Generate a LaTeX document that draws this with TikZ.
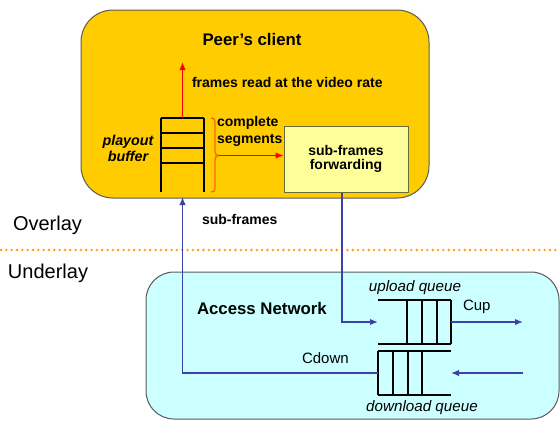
\documentclass[tikz,border=0pt]{standalone}
\usepackage{fontspec}
\setmainfont{Liberation Sans}
\usetikzlibrary{arrows.meta}

\definecolor{peerfill}{HTML}{FFCC00}
\definecolor{netfill}{HTML}{CCFFFF}
\definecolor{fwdfill}{HTML}{FFFF99}
\definecolor{boxline}{HTML}{5A5A5A}
\definecolor{fwdline}{HTML}{6B6B3A}
\definecolor{flowblue}{HTML}{4040AA}
\definecolor{dotorange}{HTML}{FF9900}
\definecolor{braceorange}{HTML}{FF6600}

\tikzset{
  region/.style={draw=boxline, line width=1pt},
  flowblue arrow/.style={draw=flowblue, line width=1.4pt, -{Latex[length=8pt,width=6.5pt]}},
  flowred arrow/.style={draw=red, line width=1.4pt, -{Latex[length=8pt,width=6.5pt]}},
  qline/.style={draw=black, line width=1.9pt},
  txt/.style={inner sep=0pt, outer sep=0pt},
  boldlbl/.style={txt, font=\fontsize{14}{17}\selectfont\bfseries},
  titlelbl/.style={txt, font=\fontsize{16.8}{20}\selectfont\bfseries},
  layerlbl/.style={txt, font=\fontsize{20}{24}\selectfont},
  ratelbl/.style={txt, font=\fontsize{15}{18}\selectfont},
  queuelbl/.style={txt, font=\fontsize{15.2}{18}\selectfont\itshape},
  holder/.style={inner sep=0pt, outer sep=0pt}
}

\begin{document}
\begin{tikzpicture}[x=1pt,y=-1pt]
\useasboundingbox (0,0) rectangle (560,421);

% peer and access network regions
\draw[region, fill=peerfill, rounded corners=32pt] (81,10) rectangle (429,198);
\draw[region, fill=netfill, rounded corners=28pt] (146,272) rectangle (559,419);

% overlay / underlay divider
\coordinate (divL) at (1,250);
\coordinate (divR) at (560,250);
\draw[dotorange, line width=2.6pt, line cap=round, dash pattern=on 0pt off 5.33pt] (divL) -- (divR);

\node[layerlbl, anchor=west] (overlay) at (13,225) {Overlay};
\node[layerlbl, anchor=west] (underlay) at (8,273) {Underlay};

% peer's client
\node[titlelbl] (peer) at (252,39) {Peer’s client};

% playout buffer
\node[holder, minimum width=43pt, minimum height=74pt] (buf) at (182.5,155) {};
\draw[qline] (161,118) -- (161,192) (204,118) -- (204,192);
\draw[qline] (161,118) -- (204,118) (161,133) -- (204,133)
             (161,148) -- (204,148) (161,163) -- (204,163);
\node[txt, align=center, font=\fontsize{14.3}{16}\selectfont\bfseries\itshape] (buflbl) at (128,148) {playout\\buffer};

\coordinate (readout) at (182.5,62);
\draw[flowred arrow] (buf.north) -- (readout);
\node[boldlbl, anchor=west] (readlbl) at (192,82) {frames read at the video rate};

% complete segments brace and forwarding box
\node[fill=fwdfill, draw=fwdline, line width=1pt, minimum width=124pt, minimum height=66pt,
      inner sep=0pt, align=center, font=\fontsize{14}{13.5}\selectfont\bfseries] (sf) at (346,159) {sub-frames\\forwarding};

\draw[braceorange, line width=1.3pt]
  (211,118) .. controls (214,118) and (215,119) .. (215,122) -- (215,151)
  .. controls (215,154) and (216,155.5) .. (219,155.5)
  .. controls (216,155.5) and (215,157) .. (215,160) -- (215,188)
  .. controls (215,191) and (214,192) .. (211,192);
\coordinate (braceTip) at (219,155.5);
\draw[flowred arrow] (braceTip) -- (sf.west |- braceTip);
\node[boldlbl, anchor=west, align=left] (seglbl) at (217,131.5) {complete\\segments};

% access network
\node[titlelbl, anchor=west] (net) at (197,308) {Access Network};

% upload queue (open on the left)
\node[holder, minimum width=73pt, minimum height=44pt] (uq) at (414.5,322) {};
\draw[qline] (378,300) -- (451,300) (378,344) -- (451,344);
\draw[qline] (407,300) -- (407,344) (422,300) -- (422,344)
             (437,300) -- (437,344) (451,300) -- (451,344);
\node[queuelbl] (uqlbl) at (415,288) {upload queue};

% download queue (open on the right)
\node[holder, minimum width=73pt, minimum height=44pt] (dq) at (414.5,373) {};
\draw[qline] (378,351) -- (451,351) (378,395) -- (451,395);
\draw[qline] (378,351) -- (378,395) (393,351) -- (393,395)
             (408,351) -- (408,395) (422,351) -- (422,395);
\node[queuelbl] (dqlbl) at (422,408) {download queue};

% rates
\node[ratelbl, anchor=west] (cup) at (463,307) {Cup};
\node[ratelbl, anchor=west] (cdown) at (302,358) {Cdown};

% sub-frame flows
\coordinate (upOut) at (523,322);
\coordinate (downIn) at (523,373);
\draw[flowblue arrow] ([xshift=-4pt]sf.south) |- (uq.west);
\draw[flowblue arrow] (uq.east) -- (upOut);
\draw[flowblue arrow] (downIn) -- (dq.east);
\draw[flowblue arrow] (dq.west) -| ([yshift=-5pt]buf.south);
\node[boldlbl, anchor=west] (subflbl) at (202,219) {sub-frames};

\end{tikzpicture}
\end{document}
